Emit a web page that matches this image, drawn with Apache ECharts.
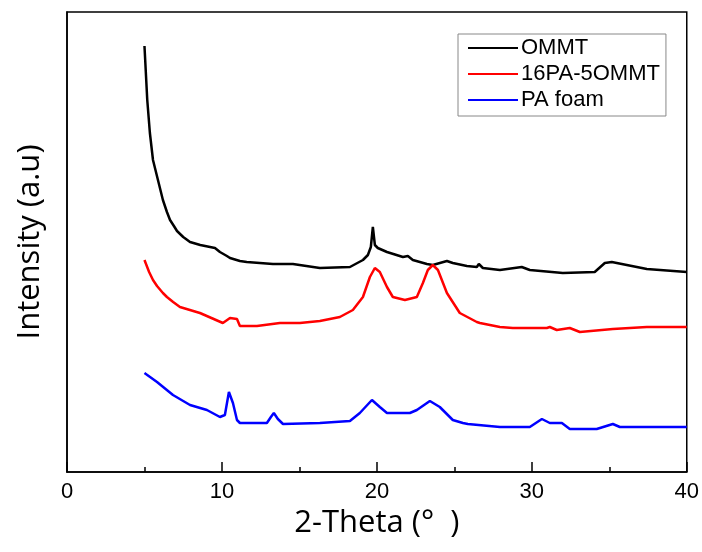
<!DOCTYPE html>
<html>
<head>
<meta charset="utf-8">
<script src="https://cdn.jsdelivr.net/npm/echarts@6/dist/echarts.min.js"></script>
<style>
  html, body { margin: 0; padding: 0; background: #fff; }
  #chart { width: 702px; height: 552px; }
</style>
</head>
<body>
<div id="chart"></div>
<script>
// 2-theta positions and intensities (a.u.)
const ommtX = [5.0, 5.18, 5.35, 5.55, 5.87, 6.19, 6.45, 6.65, 6.9, 7.1, 7.5, 7.94, 8.6, 9.55, 9.87, 10.32, 10.52, 11.16, 11.6, 13.29, 14.58, 16.32, 18.26, 19.1, 19.42, 19.61, 19.74, 19.87, 20.06, 20.65, 21.68, 22.0, 22.32, 23.23, 23.61, 24.52, 24.9, 25.81, 26.45, 26.58, 26.84, 27.94, 29.35, 29.87, 32.0, 34.06, 34.71, 35.16, 36.13, 37.42, 40]
const ommtY = [426, 372, 339, 312, 292, 272, 260, 252, 246, 241, 235, 230, 227, 224, 220, 216, 214, 211, 210, 208, 208, 204, 205, 212, 217, 225, 245, 227, 224, 220, 215, 216, 212, 208, 207, 211, 209, 206, 205, 208, 204, 202, 205, 202, 199, 200, 209, 210, 207, 203, 200]

const pa16X = [5.0, 5.3, 5.55, 5.81, 6.19, 6.45, 6.85, 7.29, 8.58, 10.06, 10.52, 10.97, 11.16, 12.26, 13.74, 15.03, 16.32, 17.61, 18.45, 19.1, 19.55, 19.87, 20.19, 20.65, 21.03, 21.81, 22.58, 22.97, 23.29, 23.61, 23.94, 24.52, 25.35, 26.45, 26.65, 27.94, 28.77, 30.97, 31.16, 31.61, 32.45, 33.1, 35.23, 37.42, 40]
const pa16Y = [212, 200, 192, 186, 179, 175, 170, 165, 159, 149, 154, 153, 146, 146, 149, 149, 151, 155, 162, 175, 195, 204, 200, 185, 175, 172, 175, 189, 202, 207, 202, 179, 159, 150, 149, 145, 144, 144, 145, 142, 144, 140, 143, 145, 145]

const foamX = [5.0, 5.81, 6.84, 7.94, 9.03, 9.87, 10.19, 10.45, 10.71, 10.97, 11.16, 12.9, 13.16, 13.35, 13.61, 13.94, 16.32, 18.26, 18.9, 19.68, 20.19, 20.65, 22.13, 22.58, 23.42, 24.06, 24.9, 25.55, 25.87, 27.94, 29.87, 30.65, 31.16, 31.94, 32.45, 34.19, 35.23, 35.68, 40]
const foamY = [99, 90, 77, 67, 62, 55, 57, 80, 69, 52, 49, 49, 55, 59, 53, 48, 49, 51, 59, 72, 65, 59, 59, 62, 71, 65, 52, 49, 48, 45, 45, 53, 49, 49, 43, 43, 48, 45, 45]

const seriesNames = ['OMMT', '16PA-5OMMT', 'PA foam']
const seriesColors = ['#000000', '#ff0000', '#0000ff']

const zip = (xs, ys) => xs.map((x, i) => [x, ys[i]])
const allData = [zip(ommtX, ommtY), zip(pa16X, pa16Y), zip(foamX, foamY)]

const chart = echarts.init(document.getElementById('chart'))

const option = {
  animation: false,
  backgroundColor: '#fff',
  grid: {
    left: 67, right: 15, top: 12, bottom: 80,
    show: true, borderColor: '#000', borderWidth: 1.5
  },
  legend: {
    orient: 'vertical',
    left: 458, top: 34,
    itemWidth: 50, itemHeight: 2, itemGap: 4,
    icon: 'rect',
    padding: [3, 6, 5, 10],
    borderColor: '#888', borderWidth: 1,
    textStyle: { fontFamily: 'Liberation Sans', fontSize: 22, color: '#000', padding: [0, 0, 0, -2] },
    data: seriesNames
  },
  xAxis: {
    type: 'value',
    min: 0, max: 40, interval: 10,
    name: '2-Theta (°  )',
    nameLocation: 'middle',
    nameGap: 34,
    nameTextStyle: { fontFamily: 'Open Sans', fontSize: 31, color: '#000' },
    axisLine: { show: true, lineStyle: { color: '#000', width: 1.5 } },
    axisTick: { show: true, inside: true, length: 10, lineStyle: { color: '#000', width: 1.5 } },
    minorTick: { show: true, splitNumber: 2, length: 5, lineStyle: { color: '#000', width: 1.5 } },
    axisLabel: { fontFamily: 'Liberation Sans Narrow, Liberation Sans', fontSize: 22, color: '#000', margin: 9 },
    splitLine: { show: false }
  },
  yAxis: {
    type: 'value',
    min: 0, max: 460,
    name: 'Intensity (a.u)',
    nameLocation: 'middle',
    nameGap: 21,
    nameTextStyle: { fontFamily: 'Open Sans', fontSize: 31, color: '#000' },
    axisLine: { show: true, lineStyle: { color: '#000', width: 1.5 } },
    axisTick: { show: false },
    axisLabel: { show: false },
    splitLine: { show: false }
  },
  series: seriesNames.map((name, i) => ({
    name: name,
    type: 'line',
    data: allData[i],
    showSymbol: false,
    smooth: false,
    color: seriesColors[i],
    lineStyle: { color: seriesColors[i], width: 2.5 }
  }))
}

chart.setOption(option)
</script>
</body>
</html>
